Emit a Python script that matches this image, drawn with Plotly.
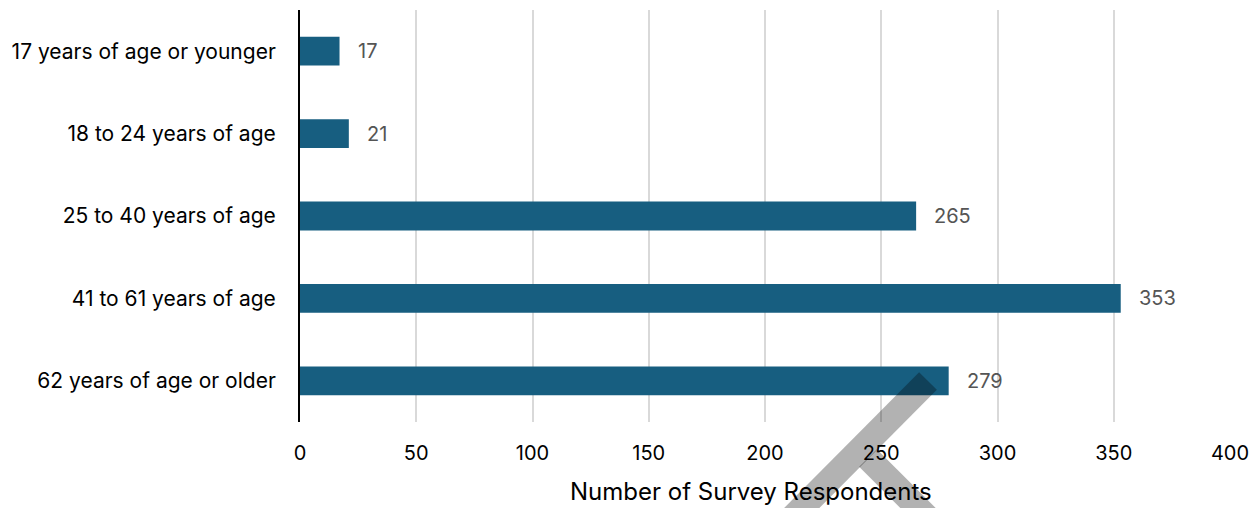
import math
import plotly.graph_objects as go

categories = ["17 years of age or younger", "18 to 24 years of age", "25 to 40 years of age",
              "41 to 61 years of age", "62 years of age or older"]
respondents = [17, 21, 265, 353, 279]
x_ticks = [0, 50, 100, 150, 200, 250, 300, 350, 400]
x_title = "Number of Survey Respondents"

FONT = "Inter, Open Sans, sans-serif"

fig = go.Figure()
fig.add_trace(go.Bar(
    y=categories, x=respondents, orientation="h",
    marker=dict(color="#175E80", line=dict(width=0)),
    hoverinfo="x+y",
))

for c, v in zip(categories, respondents):
    fig.add_annotation(x=v, y=c, text=str(v), showarrow=False, xanchor="left",
                       xshift=16, font=dict(family=FONT, size=20, color="#555555"))

# page offset (body margin) compensation: figure drawn at (8, 8)
OFF = 8
L, R, T, B = 300 - OFF, 1230 - OFF, 10 - OFF, 422 - OFF

def px(x, y):
    x -= OFF
    y -= OFF
    return (x - L) / (R - L), (B - y) / (B - T)

def band(x0, y0, x1, y1, w):
    dx, dy = x1 - x0, y1 - y0
    n = math.hypot(dx, dy)
    ox, oy = -dy / n * w / 2, dx / n * w / 2
    pts = [(x0 + ox, y0 + oy), (x1 + ox, y1 + oy), (x1 - ox, y1 - oy), (x0 - ox, y0 - oy)]
    pp = [px(a, b) for a, b in pts]
    return "M " + " L ".join(f"{a:.4f},{b:.4f}" for a, b in pp) + " Z"

# gray stroke overlay seen in the reference
fig.add_shape(type="path", xref="paper", yref="paper",
              path=band(928, 381, 770, 540, 25),
              fillcolor="rgba(0,0,0,0.3)", line=dict(width=0), layer="above")
fig.add_shape(type="path", xref="paper", yref="paper",
              path=band(868, 458, 960, 550, 25),
              fillcolor="rgba(0,0,0,0.3)", line=dict(width=0), layer="above")

# axis title (slightly left of centre, as in the reference)
tx, ty = px(751, 491)
fig.add_annotation(x=tx, y=ty, xref="paper", yref="paper", text=x_title, showarrow=False,
                   xanchor="center", yanchor="middle",
                   font=dict(family=FONT, size=24, color="black"))

fig.update_layout(
    width=1252, height=500,
    margin=dict(l=L, r=1252 - R, t=T, b=500 - B),
    paper_bgcolor="white", plot_bgcolor="white",
    bargap=0.65,
    showlegend=False,
    font=dict(family=FONT, size=20, color="black"),
    xaxis=dict(
        range=[0, 400], tickvals=x_ticks, ticktext=[str(t) for t in x_ticks],
        showgrid=True, gridcolor="#D9D9D9", gridwidth=2,
        zeroline=False, showline=False,
        ticks="outside", ticklen=13, tickcolor="rgba(0,0,0,0)",
        tickfont=dict(family=FONT, size=20, color="black"),
    ),
    yaxis=dict(
        autorange="reversed", showgrid=False, zeroline=False,
        showline=True, linecolor="black", linewidth=2,
        ticks="outside", ticklen=18, tickcolor="rgba(0,0,0,0)",
        tickfont=dict(family=FONT, size=21, color="black"),
    ),
)

fig.write_html("out.html")
